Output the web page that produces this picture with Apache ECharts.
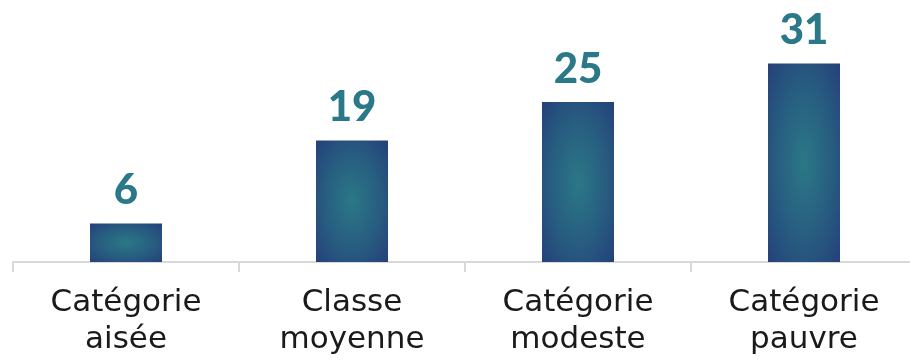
<!DOCTYPE html>
<html>
<head>
<meta charset="utf-8">
<script src="https://cdn.jsdelivr.net/npm/echarts@6/dist/echarts.min.js"></script>
<style>
  html, body { margin: 0; padding: 0; background: #ffffff; overflow: hidden; width: 910px; height: 361px; }
  /* plot area runs slightly past the right edge of the page */
  #chart { width: 920px; height: 361px; }
</style>
</head>
<body>
<div id="chart"></div>
<script>
// Categories and values
const categories = ['Catégorie\naisée', 'Classe\nmoyenne', 'Catégorie\nmodeste', 'Catégorie\npauvre'];
const values = [6, 19, 25, 31];

const BAR_W = 72;

const chart = echarts.init(document.getElementById('chart'), null, { renderer: 'canvas' });

// Radial fill, teal in the middle fading to navy; drawn on a square and
// stretched vertically so the glow becomes an ellipse filling the bar.
const barFill = {
  type: 'radial', x: 0.5, y: 0.5, r: 0.72,
  colorStops: [
    { offset: 0, color: '#2b7886' },
    { offset: 0.55, color: '#275c80' },
    { offset: 1, color: '#253f7a' }
  ]
};

function renderBar(params, api) {
  const cat = api.value(0);
  const val = api.value(1);
  const base = api.coord([cat, 0]);
  const top = api.coord([cat, val]);
  const h = base[1] - top[1];
  return {
    type: 'group',
    children: [
      {
        type: 'rect',
        x: base[0],
        y: top[1] + h / 2,
        scaleY: h / BAR_W,
        shape: { x: -BAR_W / 2, y: -BAR_W / 2, width: BAR_W, height: BAR_W },
        style: { fill: barFill }
      },
      {
        type: 'text',
        x: base[0],
        y: top[1] - 12,
        style: {
          text: String(val),
          align: 'center',
          verticalAlign: 'bottom',
          fill: '#2a7888',
          fontFamily: 'Lato',
          fontWeight: 900,
          fontSize: 42
        }
      }
    ]
  };
}

chart.setOption({
  animation: false,
  backgroundColor: '#ffffff',
  grid: { left: 13, right: 3, top: 6, bottom: 99, containLabel: false },
  xAxis: {
    type: 'category',
    data: categories,
    axisLine: { show: true, lineStyle: { color: '#d9d9d9', width: 2 } },
    axisTick: { show: true, alignWithLabel: false, length: 10, lineStyle: { color: '#d9d9d9', width: 2 } },
    axisLabel: {
      interval: 0,
      margin: 22,
      color: '#1a1a1a',
      fontFamily: 'DejaVu Sans',
      fontSize: 31,
      lineHeight: 37
    }
  },
  yAxis: {
    type: 'value',
    min: 0,
    max: 40,
    show: false,
    splitLine: { show: false }
  },
  series: [{
    type: 'custom',
    renderItem: renderBar,
    encode: { x: 0, y: 1 },
    data: values.map((v, i) => [i, v])
  }]
});
</script>
</body>
</html>
